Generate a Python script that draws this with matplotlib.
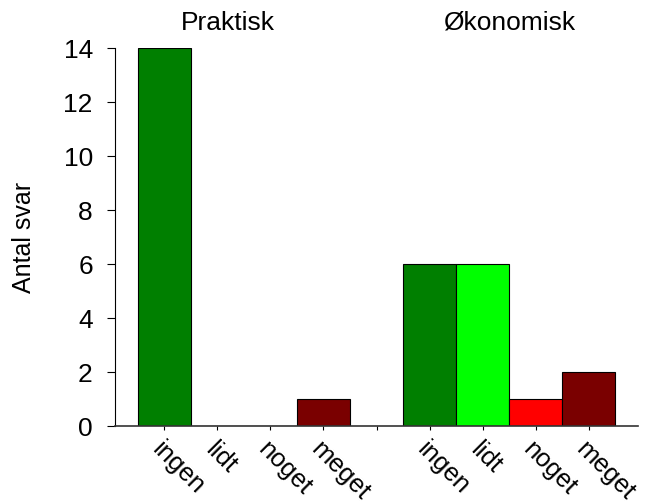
import matplotlib
matplotlib.use("Agg")
import matplotlib.pyplot as plt

plt.rcParams['font.family'] = ['Liberation Sans', 'DejaVu Sans']

groups = ["Praktisk", "Økonomisk"]
categories = ["ingen", "lidt", "noget", "meget"]
praktisk = [14, 0, 0, 1]
okonomisk = [6, 6, 1, 2]
colors = ["#007F00", "#00FF00", "#FF0000", "#7A0000"]

fig = plt.figure(figsize=(6.45, 5.04), dpi=100)
ax = fig.add_axes([115/645, 1-426/504, (638-115)/645, (426-48)/504])

pos1 = list(range(4))
pos2 = [p + 5 for p in range(4)]
ax.bar(pos1, praktisk, width=1.0, color=colors, edgecolor="black", linewidth=0.8)
ax.bar(pos2, okonomisk, width=1.0, color=colors, edgecolor="black", linewidth=0.8)

ax.set_xlim(-0.93, 8.93)
ax.set_ylim(0, 14)
ax.set_yticks(range(0, 15, 2))
ax.tick_params(axis='y', labelsize=19, length=6, width=0.8, direction='out', pad=10)
ax.set_xticks(list(range(9)))
ax.set_xticklabels(categories + [""] + categories, rotation=-45, ha='left', va='top',
                   rotation_mode='anchor', fontsize=18.5)
ax.tick_params(axis='x', length=3, width=0.8, direction='out', pad=5)

for s in ["top", "right"]:
    ax.spines[s].set_visible(False)
ax.spines['left'].set_linewidth(0.8)
ax.spines['bottom'].set_linewidth(1.2)
ax.spines['bottom'].set_color('#333333')

ax.set_ylabel("Antal svar", fontsize=18, labelpad=20)

ax.text(1.2, 14.5, groups[0], ha='center', va='bottom', fontsize=19)
ax.text(6.5, 14.5, groups[1], ha='center', va='bottom', fontsize=19)

fig.savefig("out.png", dpi=100)
